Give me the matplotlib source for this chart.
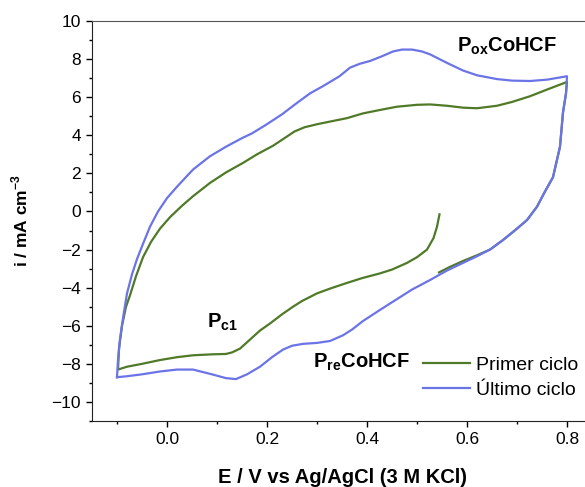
import matplotlib
matplotlib.use("Agg")
import matplotlib.pyplot as plt
from matplotlib.ticker import MultipleLocator

plt.rcParams['font.family'] = ['Liberation Sans', 'DejaVu Sans']
plt.rcParams['mathtext.fontset'] = 'custom'
plt.rcParams['mathtext.rm'] = 'Liberation Sans'
plt.rcParams['mathtext.bf'] = 'Liberation Sans:bold'

# Primer ciclo: barrido catodico desde el OCP, luego anodico y vuelta
E_primer = [0.545, 0.540, 0.533, 0.52, 0.50, 0.48, 0.45, 0.426, 0.39, 0.36, 0.326,
            0.30, 0.27, 0.252, 0.23, 0.205, 0.186, 0.165, 0.146, 0.13, 0.118, 0.09,
            0.052, 0.02, -0.014, -0.05, -0.08, -0.098,
            -0.096, -0.09, -0.082, -0.074, -0.062, -0.048, -0.032, -0.014, 0.006,
            0.03, 0.052, 0.086, 0.118, 0.152, 0.18, 0.212, 0.235, 0.255, 0.275,
            0.3, 0.326, 0.36, 0.392, 0.43, 0.46, 0.5, 0.526, 0.56, 0.592, 0.62,
            0.66, 0.69, 0.726, 0.76, 0.8,
            0.798, 0.792, 0.786, 0.772, 0.755, 0.74, 0.72, 0.7, 0.672, 0.646,
            0.62, 0.592, 0.565, 0.544]
i_primer = [-0.15, -0.8, -1.4, -2.0, -2.4, -2.7, -3.05, -3.25, -3.5, -3.75, -4.05,
            -4.3, -4.7, -5.0, -5.4, -5.9, -6.25, -6.75, -7.2, -7.4, -7.48, -7.5,
            -7.55, -7.65, -7.8, -8.0, -8.15, -8.3,
            -7.2, -6.0, -5.0, -4.4, -3.4, -2.4, -1.6, -0.9, -0.3,
            0.3, 0.8, 1.5, 2.05, 2.55, 3.0, 3.45, 3.85, 4.2, 4.42,
            4.58, 4.72, 4.9, 5.15, 5.35, 5.5, 5.6, 5.62, 5.55, 5.45, 5.42,
            5.55, 5.75, 6.05, 6.4, 6.8,
            6.2, 5.2, 3.4, 1.8, 1.0, 0.25, -0.45, -0.9, -1.5, -2.0,
            -2.3, -2.6, -2.92, -3.2]

# Ultimo ciclo: ciclo cerrado desde -0.1 V
E_ultimo = [-0.1, -0.098, -0.094, -0.088, -0.08, -0.07, -0.06, -0.048, -0.034, -0.018,
            0.0, 0.02, 0.052, 0.086, 0.118, 0.15, 0.17, 0.198, 0.23, 0.26, 0.286,
            0.31, 0.326, 0.345, 0.366, 0.385, 0.406, 0.43, 0.452, 0.47, 0.49, 0.51,
            0.526, 0.56, 0.592, 0.62, 0.66, 0.69, 0.726, 0.76, 0.8,
            0.798, 0.792, 0.786, 0.772, 0.755, 0.74, 0.72, 0.7, 0.672, 0.646, 0.62,
            0.592, 0.56, 0.526, 0.49, 0.46, 0.43, 0.392, 0.37, 0.352, 0.326, 0.3,
            0.272, 0.25, 0.232, 0.21, 0.186, 0.16, 0.138, 0.118, 0.09, 0.052, 0.02,
            -0.014, -0.05, -0.08, -0.1]
i_ultimo = [-8.7, -7.8, -6.7, -5.6, -4.3, -3.3, -2.5, -1.7, -0.8, 0.0,
            0.7, 1.3, 2.2, 2.9, 3.4, 3.85, 4.1, 4.55, 5.1, 5.7, 6.2,
            6.55, 6.8, 7.1, 7.55, 7.75, 7.9, 8.15, 8.4, 8.5, 8.5, 8.4,
            8.25, 7.8, 7.4, 7.15, 6.95, 6.87, 6.85, 6.92, 7.1,
            6.2, 5.2, 3.4, 1.8, 1.0, 0.25, -0.45, -0.9, -1.5, -2.0, -2.35,
            -2.7, -3.1, -3.6, -4.1, -4.6, -5.1, -5.75, -6.2, -6.5, -6.8, -6.9,
            -6.95, -7.05, -7.25, -7.65, -8.15, -8.55, -8.8, -8.75, -8.55, -8.3, -8.3,
            -8.4, -8.55, -8.65, -8.7]

verde = '#4f7a28'
azul = '#6b74e6'

fig = plt.figure(figsize=(5.85, 4.87), dpi=100)
ax = fig.add_axes([92 / 585, 66 / 487, 500 / 585, 400 / 487])

ax.plot(E_primer, i_primer, color=verde, lw=1.6, label='Primer ciclo')
ax.plot(E_ultimo, i_ultimo, color=azul, lw=1.6, label='Último ciclo')

ax.set_xlim(-0.15, 0.85)
ax.set_ylim(-11, 10)
ax.xaxis.set_major_locator(MultipleLocator(0.2))
ax.xaxis.set_minor_locator(MultipleLocator(0.1))
ax.yaxis.set_major_locator(MultipleLocator(2))
ax.yaxis.set_minor_locator(MultipleLocator(1))
ax.xaxis.set_major_formatter(plt.FuncFormatter(lambda v, p: f'{v:.1f}'))
ax.tick_params(which='major', length=4.5, width=1, labelsize=12.5, direction='out')
ax.tick_params(which='minor', length=2.5, width=1, direction='out')
ax.tick_params(top=False, right=False)
ax.spines['right'].set_visible(False)
ax.spines['top'].set_color('#555555')
for s in ['left', 'bottom']:
    ax.spines[s].set_color('#222222')

ax.set_xlabel('E / V vs Ag/AgCl (3 M KCl)', fontsize=14.5, fontweight='bold', labelpad=15)
ax.set_ylabel(r'i / mA cm$^{\mathbf{-3}}$', fontsize=12.5, fontweight='bold', labelpad=15)

ax.text(0.58, 8.37, r'$\mathbf{P_{ox}CoHCF}$', fontsize=14.5, ha='left', va='baseline')
ax.text(0.292, -8.2, r'$\mathbf{P_{re}CoHCF}$', fontsize=14.5, ha='left', va='baseline')
ax.text(0.08, -6.1, r'$\mathbf{P_{c1}}$', fontsize=14.5, ha='left', va='baseline')

ax.legend(loc='upper left', bbox_to_anchor=(423 / 585, 1 - 356 / 487),
          bbox_transform=fig.transFigure, frameon=False, fontsize=14,
          handlelength=2.4, handletextpad=0.3, borderpad=0, borderaxespad=0,
          labelspacing=0.4)

fig.savefig('out.png', dpi=100)
